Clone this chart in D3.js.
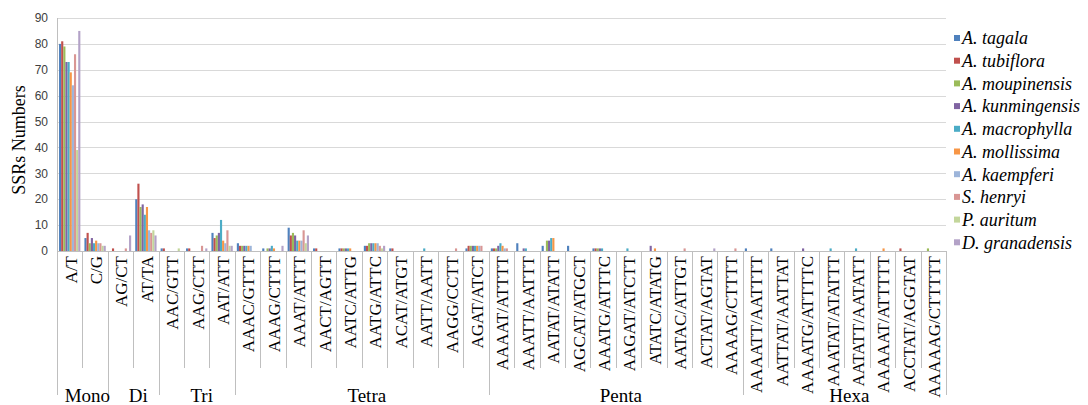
<!DOCTYPE html>
<html>
<head>
<meta charset="utf-8">
<script src="https://cdn.jsdelivr.net/npm/d3@7"></script>
<style>
  html, body { margin: 0; padding: 0; background: #fff; }
  svg { display: block; }
</style>
</head>
<body>
<svg id="chart" width="1088" height="405"></svg>
<script>
// SSR motif categories along the x axis
const motifs = [
  "A/T", "C/G",
  "AG/CT", "AT/TA",
  "AAC/GTT", "AAG/CTT", "AAT/ATT",
  "AAAC/GTTT", "AAAG/CTTT", "AAAT/ATTT", "AACT/AGTT", "AATC/ATTG", "AATG/ATTC",
  "ACAT/ATGT", "AATT/AATT", "AAGG/CCTT", "AGAT/ATCT",
  "AAAAT/ATTTT", "AAATT/AATTT", "AATAT/ATATT", "AGCAT/ATGCT", "AAATG/ATTTC",
  "AAGAT/ATCTT", "ATATC/ATATG", "AATAC/ATTGT", "ACTAT/AGTAT", "AAAAG/CTTTT",
  "AAAATT/AATTTT", "AATTAT/AATTAT", "AAAATG/ATTTTC", "AAATAT/ATATTT",
  "AATATT/AATATT", "AAAAAT/ATTTTT", "ACCTAT/AGGTAT", "AAAAAG/CTTTTT"
];

// Repeat-type groups and how many motifs each one covers
const groupNames = ["Mono", "Di", "Tri", "Tetra", "Penta", "Hexa"];
const groupSizes = [2, 2, 3, 10, 10, 8];

// Species (legend order)
const species = [
  "A. tagala", "A. tubiflora", "A. moupinensis", "A. kunmingensis", "A. macrophylla",
  "A. mollissima", "A. kaempferi", "S. henryi", "P. auritum", "D. granadensis"
];
const colors = [
  "#4f81bd", "#c0504d", "#9bbb59", "#8064a2", "#4bacc6",
  "#f79646", "#9db5da", "#d99694", "#c3d69b", "#b3a2c7"
];

// SSR counts per species, one value per motif
const tagala       = [80,5,0,20,1,1,7,3,1,9, 1,1,2,1,0,0,1,1,3,2, 2,1,0,0,0,0,0,1,1,0, 0,0,0,0,0];
const tubiflora    = [81,7,1,26,1,1,5,2,0,6, 1,1,2,1,0,0,2,1,0,0, 0,1,0,0,0,0,0,0,0,0, 0,0,0,1,0];
const moupinensis  = [79,3,0,17,0,0,6,2,1,7, 0,1,3,0,0,0,2,1,0,4, 0,1,0,0,0,0,0,0,0,0, 0,0,0,0,1];
const kunmingensis = [73,5,0,18,0,0,7,2,1,6, 0,1,3,0,0,0,2,2,1,4, 0,1,0,2,0,0,0,0,0,1, 0,0,0,0,0];
const macrophylla  = [73,3,0,14,0,0,12,2,2,4, 0,1,3,0,1,0,2,3,1,5, 0,1,1,0,0,0,0,0,0,0, 1,1,0,0,0];
const mollissima   = [69,4,0,17,0,0,4,2,1,4, 0,1,3,0,0,0,2,2,0,5, 0,0,0,1,0,0,0,0,0,0, 0,0,1,0,0];
const kaempferi    = [64,3,0,8,0,0,3,2,0,4, 0,0,3,0,0,0,2,1,0,0, 0,0,0,0,0,0,0,0,0,0, 0,0,0,0,0];
const henryi       = [76,3,1,7,0,2,8,0,0,8, 0,0,2,0,0,1,2,1,0,0, 0,0,0,0,1,0,1,0,0,0, 0,0,0,0,0];
const auritum      = [39,2,0,8,1,0,2,0,0,3, 0,0,1,0,0,0,0,0,0,0, 0,0,0,0,0,0,0,0,0,0, 0,0,0,0,0];
const granadensis  = [85,2,6,6,0,1,2,0,2,6, 0,0,2,0,0,0,0,0,0,0, 0,0,0,0,0,1,0,0,0,0, 0,0,0,0,0];

const seriesValues = [tagala, tubiflora, moupinensis, kunmingensis, macrophylla,
                      mollissima, kaempferi, henryi, auritum, granadensis];

const yTicks = [0, 10, 20, 30, 40, 50, 60, 70, 80, 90];

// ---- layout ----
const plotLeft = 57, plotRight = 946, plotTop = 18, plotBottom = 251;
const serif = "Liberation Serif, Times New Roman, serif";
const svg = d3.select("#chart");

const x0 = d3.scaleBand().domain(motifs).range([plotLeft, plotRight])
  .paddingInner(0.16).paddingOuter(0.08);
const x1 = d3.scaleBand().domain(d3.range(species.length)).range([0, x0.bandwidth()]);
const y = d3.scaleLinear().domain([0, 90]).range([plotBottom, plotTop]);
const bandStart = i => plotLeft + i * (plotRight - plotLeft) / motifs.length;

// Horizontal gridlines
svg.append("g").selectAll("line").data(yTicks.slice(1)).join("line")
  .attr("x1", plotLeft).attr("x2", plotRight)
  .attr("y1", d => Math.round(y(d)) + 0.5).attr("y2", d => Math.round(y(d)) + 0.5)
  .attr("stroke", "#d9d9d9").attr("stroke-width", 1);

// Y tick labels
svg.append("g").selectAll("text").data(yTicks).join("text")
  .attr("x", 48).attr("y", d => y(d)).attr("dy", "0.35em")
  .attr("text-anchor", "end")
  .attr("font-family", "Liberation Sans, Arial, sans-serif")
  .attr("font-size", 12).attr("fill", "#404040")
  .text(d => d);

// Bars
const rows = motifs.map((m, i) => ({ motif: m, vals: seriesValues.map(s => s[i]) }));
svg.append("g").selectAll("g").data(rows).join("g")
  .attr("transform", d => `translate(${x0(d.motif)},0)`)
  .selectAll("rect").data(d => d.vals.map((v, k) => ({ v, k }))).join("rect")
  .attr("x", d => x1(d.k))
  .attr("width", x1.bandwidth())
  .attr("y", d => y(d.v))
  .attr("height", d => y(0) - y(d.v))
  .attr("fill", d => colors[d.k]);

// Axis lines
svg.append("line").attr("x1", plotLeft + 0.5).attr("x2", plotLeft + 0.5)
  .attr("y1", plotTop).attr("y2", 395).attr("stroke", "#bfbfbf");
svg.append("line").attr("x1", plotLeft).attr("x2", plotRight)
  .attr("y1", plotBottom + 0.5).attr("y2", plotBottom + 0.5).attr("stroke", "#bfbfbf");

// Separators between motifs and between repeat groups
const groupEnds = d3.cumsum(groupSizes);
const boundaries = d3.range(1, motifs.length + 1);
svg.append("g").selectAll("line").data(boundaries).join("line")
  .attr("x1", d => Math.round(bandStart(d)) + 0.5)
  .attr("x2", d => Math.round(bandStart(d)) + 0.5)
  .attr("y1", plotBottom)
  .attr("y2", d => groupEnds.includes(d) ? 395 : 368)
  .attr("stroke", "#bfbfbf");

// Motif labels (rotated)
svg.append("g").selectAll("text").data(motifs).join("text")
  .attr("transform", d => `translate(${x0(d) + x0.bandwidth() / 2 + 1},256) rotate(-90)`)
  .attr("dy", "0.35em")
  .attr("text-anchor", "end")
  .attr("font-family", serif)
  .attr("font-size", 17).attr("fill", "#000")
  .text(d => d);

// Group labels
const groupStarts = [0, ...groupEnds.slice(0, -1)];
svg.append("g").selectAll("text").data(groupNames).join("text")
  .attr("x", (d, i) => (bandStart(groupStarts[i]) + bandStart(groupEnds[i])) / 2 + 5)
  .attr("y", 402)
  .attr("text-anchor", "middle")
  .attr("font-family", serif)
  .attr("font-size", 19).attr("fill", "#000")
  .text(d => d);

// Y axis title
svg.append("text")
  .attr("transform", "translate(19,140) rotate(-90)")
  .attr("dy", "0.35em")
  .attr("text-anchor", "middle")
  .attr("font-family", serif)
  .attr("font-size", 18).attr("fill", "#000")
  .text("SSRs Numbers");

// Legend
const legend = svg.append("g").selectAll("g").data(species).join("g")
  .attr("transform", (d, i) => `translate(954,${38 + i * 22.7})`);
legend.append("rect").attr("x", 0).attr("y", -3).attr("width", 6).attr("height", 6)
  .attr("fill", (d, i) => colors[i]);
legend.append("text").attr("x", 8).attr("dy", "0.35em")
  .attr("font-family", serif)
  .attr("font-style", "italic")
  .attr("font-size", 18).attr("fill", "#000")
  .text(d => d);
</script>
</body>
</html>
